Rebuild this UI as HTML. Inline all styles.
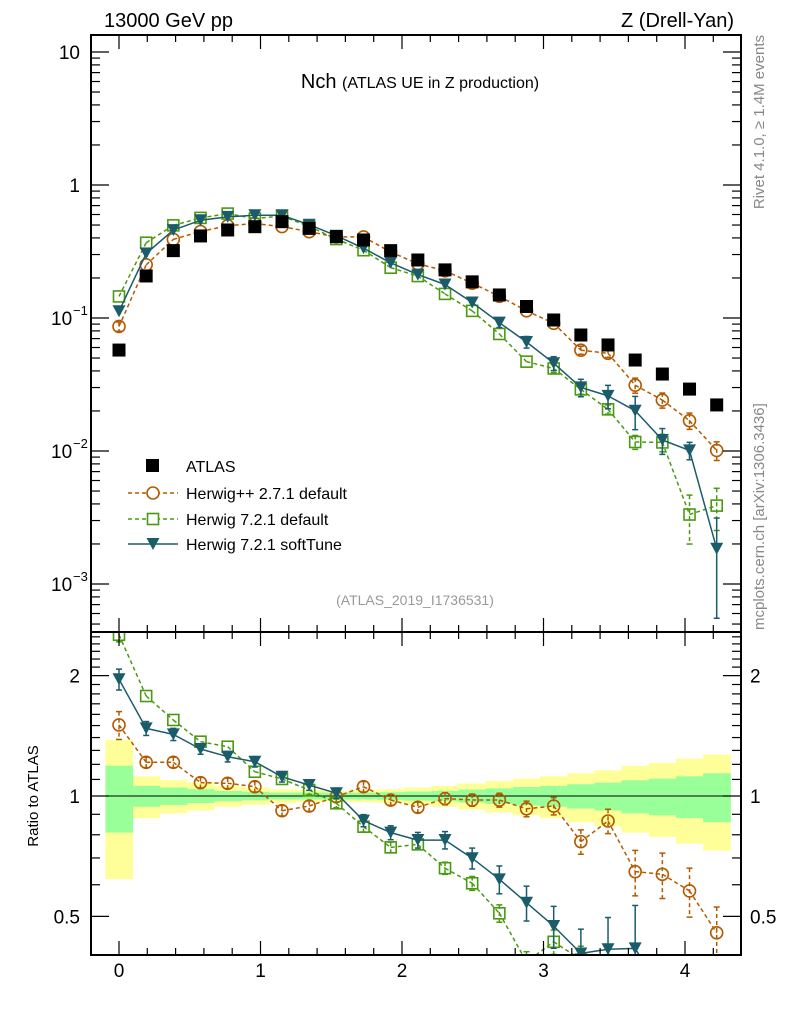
<!DOCTYPE html>
<html><head><meta charset="utf-8"><style>
html,body{margin:0;padding:0;background:#fff;width:786px;height:1024px;overflow:hidden;position:relative}
svg{display:block;font-family:"Liberation Sans","DejaVu Sans",sans-serif}
</style></head><body>
<svg id="c" width="786" height="1024" viewBox="0 0 786 1024" style="position:absolute;left:0;top:0"></svg>
<script>
const xVals=[0,0.192,0.384,0.576,0.768,0.96,1.152,1.344,1.536,1.728,1.92,2.112,2.304,2.496,2.688,2.88,3.072,3.264,3.456,3.648,3.84,4.032,4.224];
const atlas=[0.0574,0.207,0.321,0.414,0.459,0.486,0.530,0.472,0.409,0.386,0.321,0.273,0.230,0.187,0.149,0.122,0.0966,0.0745,0.0627,0.0483,0.0379,0.0292,0.0222];
const ratioHpp=[1.505,1.214,1.214,1.080,1.076,1.055,0.919,0.944,0.996,1.055,0.977,0.937,0.985,0.977,0.977,0.929,0.944,0.769,0.866,0.647,0.637,0.579,0.455];
const ratioH72=[2.53,1.778,1.549,1.367,1.328,1.150,1.103,1.035,0.959,0.838,0.744,0.757,0.660,0.605,0.509,0.385,0.432,0.39,0.328,0.242,0.306,0.114,0.175];
const ratioSoft=[1.958,1.476,1.426,1.311,1.254,1.218,1.117,1.065,1.016,0.868,0.810,0.776,0.776,0.699,0.619,0.541,0.473,0.404,0.414,0.416,0.319,0.346,0.083];
const errHpp=[0.08,0.03,0.03,0.03,0.03,0.03,0.03,0.03,0.03,0.03,0.03,0.03,0.035,0.035,0.04,0.045,0.05,0.07,0.07,0.13,0.13,0.14,0.16];
const errH72=[0.04,0.02,0.02,0.02,0.02,0.02,0.02,0.025,0.025,0.03,0.03,0.03,0.035,0.04,0.05,0.06,0.07,0.08,0.08,0.12,0.15,0.4,0.35];
const errSoft=[0.06,0.04,0.035,0.03,0.03,0.03,0.03,0.03,0.03,0.035,0.04,0.045,0.05,0.06,0.08,0.1,0.12,0.15,0.2,0.28,0.22,0.15,0.7];
const bandY=[0.38,0.12,0.095,0.08,0.06,0.05,0.04,0.035,0.03,0.035,0.04,0.05,0.06,0.075,0.09,0.105,0.12,0.14,0.16,0.19,0.21,0.24,0.27];
const bandG=[0.19,0.06,0.05,0.04,0.03,0.025,0.02,0.02,0.02,0.02,0.022,0.026,0.03,0.038,0.045,0.053,0.06,0.07,0.08,0.095,0.105,0.12,0.14];
const mainTicks=[10,1,0.1,0.01,0.001];
const mainTickLabels=["10","1","10","10","10"];
const mainTickExp=["","","−1","−2","−3"];
const ratioTicks=[2,1,0.5];
const ratioTickLabels=["2","1","0.5"];
const xTicks=[0,1,2,3,4];

const NS="http://www.w3.org/2000/svg";
const svg=document.getElementById('c');
const L=91,R=741,T=35,M=632,B=955;
const px=x=>119+141.5*x;
const pyM=v=>185-133*Math.log10(v);
const pyR=r=>796-400*Math.log10(r);
function el(tag,attrs,parent){const e=document.createElementNS(NS,tag);for(const k in attrs)e.setAttribute(k,attrs[k]);(parent||svg).appendChild(e);return e;}
function txt(s,attrs,parent){const e=el('text',attrs,parent);e.textContent=s;return e;}

const defs=el('defs',{});
const cm=el('clipPath',{id:'cm'},defs);el('rect',{x:L,y:T,width:R-L,height:M-T},cm);
const cr=el('clipPath',{id:'cr'},defs);el('rect',{x:L,y:M,width:R-L,height:B-M},cr);

const gBand=el('g',{'clip-path':'url(#cr)'});


const hw=0.096;
const clampR=y=>Math.min(Math.max(y,M),B);
xVals.forEach((x,i)=>{
  const a=clampR(pyR(1+bandY[i])),b=clampR(pyR(1-bandY[i]));
  const y1=el('rect',{x:px(x-hw),y:a,width:px(x+hw)-px(x-hw)+0.5,height:b-a,fill:'#ffff99'},gBand);
  
  
});
xVals.forEach((x,i)=>{
  const a=clampR(pyR(1+bandG[i])),b=clampR(pyR(1-bandG[i]));
  const g1=el('rect',{x:px(x-hw),y:a,width:px(x+hw)-px(x-hw)+0.5,height:b-a,fill:'#99ff99'},gBand);
  
  
});
el('line',{x1:L,x2:R,y1:796,y2:796,stroke:'#000','stroke-width':1},gBand);

const series=[
 {name:'herwigpp-271',ratio:ratioHpp,err:errHpp,color:'#b35a00',dash:'4,3',marker:'circle'},
 {name:'herwig-721-default',ratio:ratioH72,err:errH72,color:'#4a9a10',dash:'4,3',marker:'square'},
 {name:'herwig-721-softtune',ratio:ratioSoft,err:errSoft,color:'#1b5c6b',dash:'',marker:'tri'}
];
function marker(kind,x,y,color,g){
  let m;
  if(kind==='circle')m=el('circle',{cx:x,cy:y,r:6,fill:'none',stroke:color,'stroke-width':1.6},g);
  else if(kind==='square')m=el('rect',{x:x-5.5,y:y-5.5,width:11,height:11,fill:'none',stroke:color,'stroke-width':1.6},g);
  else if(kind==='tri')m=el('path',{d:`M${x-6.5},${y-6} L${x+6.5},${y-6} L${x},${y+6} Z`,fill:color},g);
  else m=el('rect',{x:x-6.5,y:y-6.5,width:13,height:13,fill:'#000'},g);
  return m;
}
// clip segment to [ylo,yhi]
function clipSeg(x1,y1,x2,y2,ylo,yhi){
  if((y1<ylo&&y2<ylo)||(y1>yhi&&y2>yhi))return null;
  const at=(yy)=>x1+(x2-x1)*(yy-y1)/(y2-y1);
  if(y1<ylo){x1=at(ylo);y1=ylo;} else if(y1>yhi){x1=at(yhi);y1=yhi;}
  if(y2<ylo){x2=x1+(x2-x1)*(ylo-y1)/(y2-y1);y2=ylo;} else if(y2>yhi){x2=x1+(x2-x1)*(yhi-y1)/(y2-y1);y2=yhi;}
  return [x1,y1,x2,y2];
}
function drawSeries(s,panel){
  const g=el('g',{'clip-path':panel==='main'?'url(#cm)':'url(#cr)'});
  
  
  const ylo=panel==='main'?T:M, yhi=panel==='main'?M:B;
  const vals=s.ratio.map((r,i)=>panel==='main'?r*atlas[i]:r);
  const py=panel==='main'?pyM:pyR;
  let d='';
  for(let i=0;i+1<vals.length;i++){
    const c=clipSeg(px(xVals[i]),py(vals[i]),px(xVals[i+1]),py(vals[i+1]),ylo,yhi);
    if(c)d+=`M${c[0].toFixed(1)},${c[1].toFixed(1)} L${c[2].toFixed(1)},${c[3].toFixed(1)} `;
  }
  if(d)el('path',{d:d,fill:'none',stroke:s.color,'stroke-width':1.5,'stroke-dasharray':s.dash},g);
  vals.forEach((v,i)=>{
    const x=px(xVals[i]);
    const yc=py(v);
    const lo=Math.max(v*(1-s.err[i]),1e-5),hi=v*(1+s.err[i]);
    const y1=py(hi),y2=py(lo);
    if(y2-y1>8){
      const a=Math.max(y1,ylo),b=Math.min(y2,yhi);
      if(b>a) el('line',{x1:x,x2:x,y1:a,y2:b,stroke:s.color,'stroke-width':1.5,'stroke-dasharray':s.dash},g);
      if(y1>=ylo&&y1<=yhi) el('line',{x1:x-3,x2:x+3,y1:y1,y2:y1,stroke:s.color,'stroke-width':1.5},g);
      if(y2>=ylo&&y2<=yhi) el('line',{x1:x-3,x2:x+3,y1:y2,y2:y2,stroke:s.color,'stroke-width':1.5},g);
    }
    if(yc>ylo-10&&yc<yhi+10){
      const m=marker(s.marker,x,yc,s.color,g);
      
      
    }
  });
}
series.forEach(s=>drawSeries(s,'ratio'));
series.forEach(s=>drawSeries(s,'main'));
const ga=el('g',{'clip-path':'url(#cm)'});


atlas.forEach((v,i)=>{
  const m=marker('fill',px(xVals[i]),pyM(v),'#000',ga);
  
  
});

[[T,M],[M,B]].forEach(([a,b])=>el('rect',{x:L,y:a,width:R-L,height:b-a,fill:'none',stroke:'#000','stroke-width':2}));

const gx=el('g',{});


for(let k=-1;k<=22;k++){
  const xv=k*0.2; if(px(xv)<=L||px(xv)>=R)continue;
  const major=Math.abs(xv-Math.round(xv))<1e-6;
  const len=major?14:7;
  [T,M].forEach(yy=>{el('line',{x1:px(xv),x2:px(xv),y1:yy,y2:yy+len,stroke:'#000','stroke-width':1.2},gx);});
  [M,B].forEach(yy=>{el('line',{x1:px(xv),x2:px(xv),y1:yy,y2:yy-len,stroke:'#000','stroke-width':1.2},gx);});
}
xTicks.forEach(t=>{const e=txt(String(t),{x:px(t),y:977,'font-size':19,'text-anchor':'middle'},gx);});

const gy=el('g',{});


for(let d=-4;d<=1;d++){
  for(let m=1;m<10;m++){
    const v=m*Math.pow(10,d),y=pyM(v); if(y<T||y>M)continue;
    const len=m===1?18:9;
    el('line',{x1:L,x2:L+len,y1:y,y2:y,stroke:'#000','stroke-width':1.2},gy);
    el('line',{x1:R,x2:R-len,y1:y,y2:y,stroke:'#000','stroke-width':1.2},gy);
  }
}
mainTicks.forEach((t,i)=>{
  const y=pyM(t);
  const e=txt(mainTickLabels[i],{x:mainTickExp[i]?51:80,y:y+7,'font-size':19,'text-anchor':mainTickExp[i]?'start':'end'},gy);
  
  
  if(mainTickExp[i]){txt(mainTickExp[i],{x:73,y:y-3,'font-size':13},gy);}
});
const gr=el('g',{});


for(let v=0.4;v<=2.6;v+=0.1){
  const y=pyR(v); if(y<M||y>B)continue;
  const major=[0.5,1,2].some(q=>Math.abs(q-v)<1e-6);
  const len=major?18:9;
  el('line',{x1:L,x2:L+len,y1:y,y2:y,stroke:'#000','stroke-width':1.2},gr);
  el('line',{x1:R,x2:R-len,y1:y,y2:y,stroke:'#000','stroke-width':1.2},gr);
}
ratioTicks.forEach((t,i)=>{
  const y=pyR(t)+7;
  txt(ratioTickLabels[i],{x:80,y:y,'font-size':19,'text-anchor':'end'},gr);
  txt(ratioTickLabels[i],{x:750,y:y,'font-size':19},gr);
});
</script>
<svg width="786" height="1024" style="position:absolute;left:0;top:0">
<g font-family="Liberation Sans, sans-serif">
<text x="104" y="27" font-size="20">13000 GeV pp</text>
<text x="734" y="27" font-size="20" text-anchor="end">Z (Drell-Yan)</text>
<text x="420" y="88" font-size="20" text-anchor="middle">Nch <tspan font-size="16">(ATLAS UE in Z production)</tspan></text>
<text x="415" y="605" font-size="14" fill="#999" text-anchor="middle">(ATLAS_2019_I1736531)</text>
<text transform="translate(38,796) rotate(-90)" font-size="15" text-anchor="middle">Ratio to ATLAS</text>
<text transform="translate(764,35) rotate(-90)" font-size="15" fill="#888" text-anchor="end">Rivet 4.1.0, ≥ 1.4M events</text>
<text transform="translate(764,630) rotate(-90)" font-size="15" fill="#888">mcplots.cern.ch [arXiv:1306.3436]</text>
<g>
 <rect x="146" y="459" width="13" height="13" fill="#000"/>
 <text x="186" y="472" font-size="16">ATLAS</text>
 <line x1="128" x2="178" y1="493" y2="493" stroke="#b35a00" stroke-width="1.5" stroke-dasharray="4,3"/>
 <circle cx="153" cy="493" r="6" fill="#fff" stroke="#b35a00" stroke-width="1.6"/>
 <text x="186" y="499" font-size="16">Herwig++ 2.7.1 default</text>
 <line x1="128" x2="178" y1="519" y2="519" stroke="#4a9a10" stroke-width="1.5" stroke-dasharray="4,3"/>
 <rect x="147.5" y="513.5" width="11" height="11" fill="#fff" stroke="#4a9a10" stroke-width="1.6"/>
 <text x="186" y="525" font-size="16">Herwig 7.2.1 default</text>
 <line x1="128" x2="178" y1="544" y2="544" stroke="#1b5c6b" stroke-width="1.5"/>
 <path d="M146.5,538 L159.5,538 L153,550 Z" fill="#1b5c6b"/>
 <text x="186" y="550" font-size="16">Herwig 7.2.1 softTune</text>
</g>
</g>
</svg>
</body></html>
